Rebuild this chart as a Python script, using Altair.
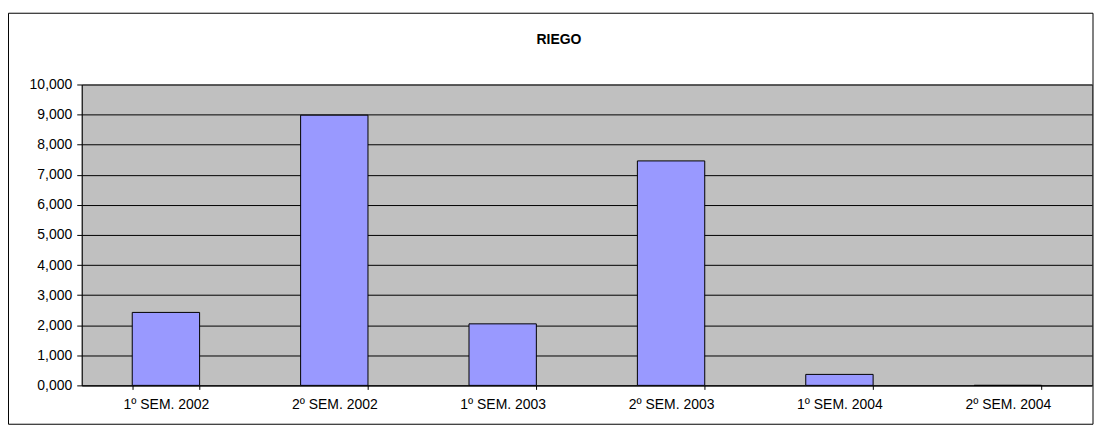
import altair as alt
import pandas as pd

categories = ["1º SEM. 2002", "2º SEM. 2002", "1º SEM. 2003",
              "2º SEM. 2003", "1º SEM. 2004", "2º SEM. 2004"]
values = [2425, 8980, 2045, 7460, 365, 0]
title_text = ["RIEGO"]

df = pd.DataFrame({"cat": categories, "val": values})
tdf = pd.DataFrame({"t": title_text})

FONT = "Liberation Sans"

x_enc = alt.X(
    "cat:N",
    sort=categories,
    title=None,
    scale=alt.Scale(paddingInner=0.6, paddingOuter=0.3),
    axis=alt.Axis(
        labelAngle=0, labelFont=FONT, labelFontSize=14, labelColor="black",
        domainColor="black", tickColor="black", tickSize=4,
        tickBand="extent", labelPadding=8, grid=False,
    ),
)

bars = alt.Chart(df).mark_bar(
    fill="#9999FF", stroke="black", strokeWidth=1
).encode(
    x=x_enc,
    y=alt.Y(
        "val:Q",
        title=None,
        scale=alt.Scale(domain=[0, 10000], nice=False),
        axis=alt.Axis(
            values=list(range(0, 10001, 1000)),
            labelExpr="datum.value == 0 ? '0,000' : format(datum.value, ',')",
            labelFont=FONT, labelFontSize=14, labelColor="black",
            domainColor="black", tickColor="black", tickSize=5,
            labelPadding=5, grid=True, gridColor="black", gridOpacity=1,
            gridWidth=1,
        ),
    ),
)

border = alt.Chart(tdf).mark_rect(
    fill=None, stroke="black", strokeWidth=1, clip=False
).encode(
    x=alt.value(-73.5), x2=alt.value(1015),
    y=alt.value(-71.5), y2=alt.value(341),
)

title = alt.Chart(tdf).mark_text(
    font=FONT, fontSize=14, fontWeight="bold", color="black",
    align="center", baseline="middle", clip=False
).encode(
    text="t:N",
    x=alt.value(479), y=alt.value(-45),
)

chart = alt.layer(border, bars, title).properties(
    width=1014,
    height=302,
    autosize=alt.AutoSizeParams(type="none"),
    padding={"left": 74, "top": 76, "right": 3, "bottom": 40},
    background="white",
).configure_view(
    fill="#C0C0C0", stroke="#808080", strokeWidth=1
)

chart.save("out.html", embed_options={"renderer": "svg", "actions": False})
